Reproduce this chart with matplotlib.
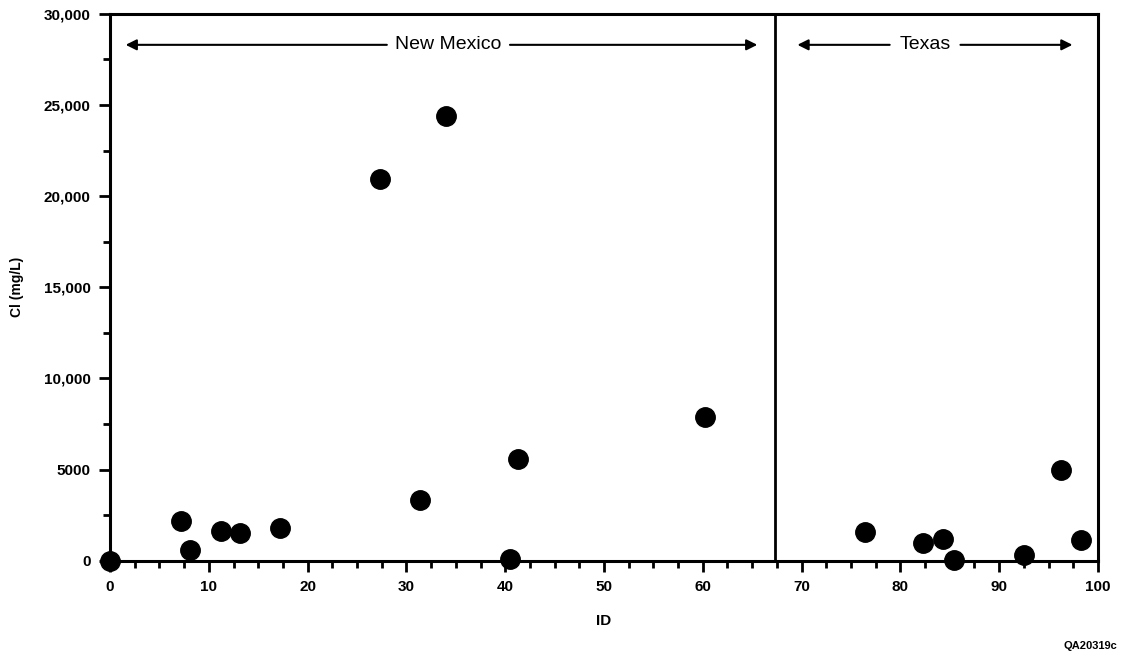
import matplotlib
matplotlib.use("Agg")
import matplotlib.pyplot as plt
from matplotlib.ticker import MultipleLocator, FixedLocator

plt.rcParams['font.family'] = ['Liberation Sans', 'DejaVu Sans']

# Cl concentrations by well ID
nm_id = [0, 7.2, 8.1, 11.2, 13.2, 17.2, 27.3, 31.4, 34.0, 40.5, 41.3, 60.2]
nm_cl = [0, 2210, 570, 1650, 1500, 1790, 20950, 3330, 24400, 110, 5600, 7880]
tx_id = [76.4, 82.3, 84.3, 85.4, 92.5, 96.3, 98.3]
tx_cl = [1570, 1000, 1200, 50, 330, 4975, 1130]

yticks = [0, 5000, 10000, 15000, 20000, 25000, 30000]
ylabels = ["0", "5000", "10,000", "15,000", "20,000", "25,000", "30,000"]
xticks = [0, 10, 20, 30, 40, 50, 60, 70, 80, 90, 100]
border = 67.3

fig = plt.figure(figsize=(11.23, 6.59), dpi=100)
ax = fig.add_axes([0.098, 0.149, 0.8797, 0.830])

ax.plot(nm_id + tx_id, nm_cl + tx_cl, 'o', color='black', markersize=14, clip_on=False, zorder=5)

ax.set_xlim(0, 100)
ax.set_ylim(0, 30000)
ax.axvline(border, color='black', lw=2)

ax.set_xticks(xticks)
ax.set_xticklabels([str(v) for v in xticks], fontweight='bold', fontsize=11)
ax.xaxis.set_minor_locator(FixedLocator([v for v in [i * 2.5 for i in range(41)] if v % 10 != 0]))
ax.set_yticks(yticks)
ax.set_yticklabels(ylabels, fontweight='bold', fontsize=11)
ax.yaxis.set_minor_locator(MultipleLocator(2500))
ax.tick_params(which='major', length=8, width=2, direction='out', pad=6)
ax.tick_params(which='minor', length=5, width=2, direction='out')
for s in ax.spines.values():
    s.set_linewidth(2.2)

# region arrows
arrow = dict(arrowstyle='-|>', color='black', lw=1.5, mutation_scale=16)
ya = 28300
ax.annotate('', xy=(1.3, ya), xytext=(28.3, ya), arrowprops=arrow)
ax.annotate('', xy=(65.8, ya), xytext=(40.2, ya), arrowprops=arrow)
ax.text(34.2, ya, 'New Mexico', ha='center', va='center', fontsize=14)
ax.annotate('', xy=(69.3, ya), xytext=(79.2, ya), arrowprops=arrow)
ax.annotate('', xy=(97.7, ya), xytext=(85.8, ya), arrowprops=arrow)
ax.text(82.5, ya, 'Texas', ha='center', va='center', fontsize=14)

ax.set_xlabel('ID', fontweight='bold', fontsize=11, labelpad=14)
ax.set_ylabel('Cl (mg/L)', fontweight='bold', fontsize=10, labelpad=14)
fig.text(0.995, 0.012, 'QA20319c', ha='right', va='bottom', fontsize=8, fontweight='bold')

plt.savefig('out.png', dpi=100)
